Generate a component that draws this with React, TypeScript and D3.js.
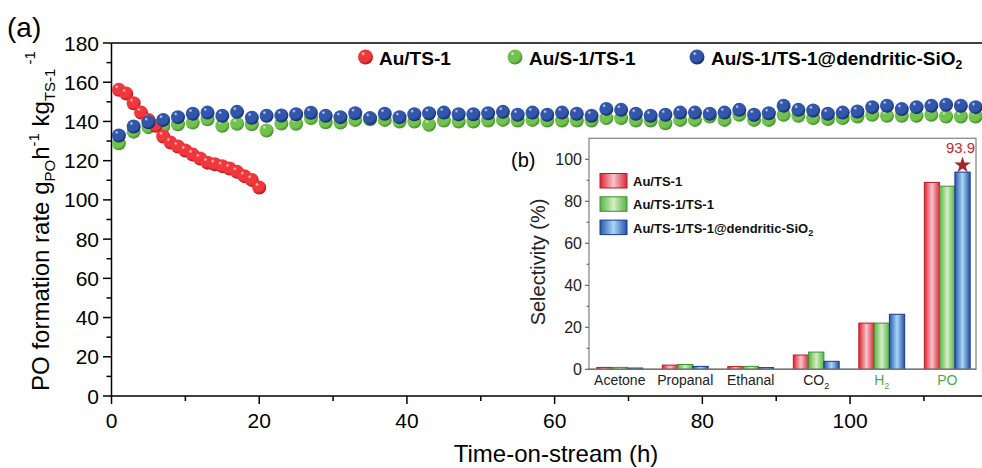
import React from 'react';
import * as d3 from 'd3';

// main panel (a)
const redHours = [1, 2, 3, 4, 5, 6, 7, 8, 9, 10, 11, 12, 13, 14, 15, 16, 17, 18, 19, 20];
const redRate = [156.1, 154.2, 149.3, 144.5, 140.8, 137.8, 132.3, 129.2, 127.2, 125.2, 123.1, 121.1, 119.0, 118.2, 117.2, 116.0, 114.3, 112.1, 110.2, 106.3];

const oddHours = [1, 3, 5, 7, 9, 11, 13, 15, 17, 19, 21, 23, 25, 27, 29, 31, 33, 35, 37, 39,
  41, 43, 45, 47, 49, 51, 53, 55, 57, 59, 61, 63, 65, 67, 69, 71, 73, 75, 77, 79,
  81, 83, 85, 87, 89, 91, 93, 95, 97, 99, 101, 103, 105, 107, 109, 111, 113, 115, 117];
const greenRate = [128.9, 134.8, 137.1, 137.4, 138.6, 139.4, 141.1, 137.8, 138.8, 138.6, 135.4, 138.9, 138.8, 141.7, 139.6, 139.4, 140.8, 141.1, 140.8, 140.0,
  140.0, 138.3, 140.5, 140.0, 140.0, 140.5, 140.8, 140.5, 140.8, 140.5, 140.5, 140.5, 140.5, 141.7, 141.7, 140.5, 140.5, 139.1, 140.8, 140.8,
  142.5, 140.8, 143.4, 140.8, 140.8, 143.4, 142.9, 141.7, 141.2, 141.7, 142.5, 143.4, 142.9, 142.9, 142.9, 143.4, 142.5, 142.5, 142.5];
const blueRate = [132.8, 137.4, 139.6, 140.8, 142.2, 143.9, 144.5, 142.9, 144.9, 141.9, 142.9, 143.0, 143.7, 144.4, 142.9, 142.2, 144.2, 141.7, 143.9, 142.2,
  143.7, 144.2, 144.5, 143.7, 143.7, 144.2, 144.9, 143.4, 144.5, 143.4, 144.5, 143.9, 142.9, 146.4, 145.9, 143.9, 142.9, 143.4, 144.5, 144.5,
  143.9, 144.5, 145.9, 143.4, 144.2, 148.0, 145.9, 145.6, 143.9, 144.5, 145.1, 147.3, 148.0, 146.3, 147.3, 148.0, 148.5, 148.0, 147.3];

const xTicks = [0, 20, 40, 60, 80, 100];
const xMinor = [10, 30, 50, 70, 90, 110];
const yTicks = [0, 20, 40, 60, 80, 100, 120, 140, 160, 180];
const yMinor = [10, 30, 50, 70, 90, 110, 130, 150, 170];

// inset (b)
const categories = ['Acetone', 'Propanal', 'Ethanal', 'CO2', 'H2', 'PO'];
const selRed = [0.9, 2.0, 1.3, 6.8, 22.0, 89.0];
const selGreen = [0.9, 2.3, 1.4, 8.2, 22.0, 87.2];
const selBlue = [0.6, 1.4, 0.8, 3.8, 26.2, 93.9];
const insetTicks = [0, 20, 40, 60, 80, 100];
const insetMinor = [10, 30, 50, 70, 90];

const FONT = 'Liberation Sans, Arial, sans-serif';

const sphereCols = {
  red: ['#ffe4e4', '#f0383c', '#b5121a'],
  green: ['#e8f7de', '#72c24e', '#3f8e27'],
  blue: ['#dce5ff', '#3156aa', '#14296b'],
};
const barCols = {
  red: ['#e2232c', '#f6c4cf', '#dc2a33', '#b51d25'],
  green: ['#55b544', '#d6edc3', '#55b544', '#3e9330'],
  blue: ['#2b55b0', '#a6d8f4', '#2a4fa8', '#1a3a8c'],
};

const App = () => {
  const width = 982;
  const height = 468;

  const x = d3.scaleLinear().domain([0, 118]).range([111.5, 983]);
  const y = d3.scaleLinear().domain([0, 180]).range([396, 43]);

  const iy = d3.scaleLinear().domain([0, 110]).range([369.3, 138.3]);
  const ix = d3.scaleBand().domain(categories).range([587, 980]).paddingInner(0.3).paddingOuter(0.15);
  const sub = d3.scaleBand().domain(['red', 'green', 'blue']).range([0, ix.bandwidth()]);

  const star = d3.symbol().type(d3.symbolStar).size(85)();
  const poBlueX = ix('PO') + sub('blue') + sub.bandwidth() / 2;

  const dots = (hours, vals, key) =>
    hours.map((h, i) => (
      <circle key={key + i} cx={x(h)} cy={y(vals[i])} r={7} fill={`url(#sph-${key})`} />
    ));

  const label = (c) => {
    if (c === 'CO2') return <>CO<tspan fontSize={9} dy={4}>2</tspan></>;
    if (c === 'H2') return <>H<tspan fontSize={9} dy={4}>2</tspan></>;
    return c;
  };

  const insetSeries = [
    ['red', selRed],
    ['green', selGreen],
    ['blue', selBlue],
  ];

  return (
    <svg width={width} height={height} style={{ position: 'absolute', left: 0, top: 0, background: '#fff' }} fontFamily={FONT}>
      <defs>
        {Object.entries(sphereCols).map(([k, c]) => (
          <radialGradient key={k} id={`sph-${k}`} cx="0.42" cy="0.38" r="0.62" fx="0.33" fy="0.26">
            <stop offset="0" stopColor={c[0]} />
            <stop offset="0.22" stopColor={c[1]} />
            <stop offset="0.72" stopColor={c[1]} />
            <stop offset="1" stopColor={c[2]} />
          </radialGradient>
        ))}
        {Object.entries(barCols).map(([k, c]) => (
          <linearGradient key={k} id={`bar-${k}`} x1="0" x2="1" y1="0" y2="0">
            <stop offset="0" stopColor={c[0]} />
            <stop offset="0.5" stopColor={c[1]} />
            <stop offset="1" stopColor={c[2]} />
          </linearGradient>
        ))}
      </defs>

      {/* panel (a) */}
      <text x={7} y={37} fontSize={28}>(a)</text>

      <line x1={111.5} x2={983} y1={43} y2={43} stroke="#000" strokeWidth={1.5} />
      <line x1={111.5} x2={983} y1={396} y2={396} stroke="#000" strokeWidth={1.5} />
      <line x1={111.5} x2={111.5} y1={43} y2={396} stroke="#000" strokeWidth={1.5} />

      {yTicks.map((t) => (
        <g key={'yt' + t}>
          <line x1={103} x2={111.5} y1={y(t)} y2={y(t)} stroke="#000" strokeWidth={1.5} />
          <text x={99} y={y(t)} dy="0.36em" textAnchor="end" fontSize={21}>{t}</text>
        </g>
      ))}
      {yMinor.map((t) => (
        <line key={'ym' + t} x1={106.5} x2={111.5} y1={y(t)} y2={y(t)} stroke="#000" strokeWidth={1.5} />
      ))}
      {xTicks.map((t) => (
        <g key={'xt' + t}>
          <line x1={x(t)} x2={x(t)} y1={396} y2={404} stroke="#000" strokeWidth={1.5} />
          <text x={x(t)} y={428} textAnchor="middle" fontSize={21}>{t}</text>
        </g>
      ))}
      {xMinor.map((t) => (
        <line key={'xm' + t} x1={x(t)} x2={x(t)} y1={396} y2={401} stroke="#000" strokeWidth={1.5} />
      ))}

      <text x={556} y={462} textAnchor="middle" fontSize={24}>Time-on-stream (h)</text>
      <text transform="translate(49,221) rotate(-90)" textAnchor="middle" fontSize={24}>
        PO formation rate g<tspan fontSize={15} dy={6}>PO</tspan>
        <tspan dy={-6}>h</tspan><tspan fontSize={15} dy={-10}>-1</tspan>
        <tspan dy={10}> kg</tspan><tspan fontSize={15} dy={6}>TS-1</tspan>
        <tspan fontSize={15} dy={-20}> -1</tspan>
      </text>

      {dots(oddHours, greenRate, 'green')}
      {dots(redHours, redRate, 'red')}
      {dots(oddHours, blueRate, 'blue')}

      {/* legend */}
      <circle cx={365.5} cy={57} r={7.5} fill="url(#sph-red)" />
      <text x={379} y={65} fontSize={19} fontWeight="bold">Au/TS-1</text>
      <circle cx={515} cy={57} r={7.5} fill="url(#sph-green)" />
      <text x={529} y={65} fontSize={19} fontWeight="bold">Au/S-1/TS-1</text>
      <circle cx={697} cy={57} r={7.5} fill="url(#sph-blue)" />
      <text x={711} y={65} fontSize={19} fontWeight="bold">
        Au/S-1/TS-1@dendritic-SiO<tspan fontSize={12} dy={4}>2</tspan>
      </text>

      {/* inset (b) */}
      <rect x={589} y={138.3} width={387} height={231} fill="#fff" stroke="#8a8a8a" strokeWidth={1.3} />
      <text x={511} y={167} fontSize={20}>(b)</text>

      {insetTicks.map((t) => (
        <g key={'it' + t}>
          <line x1={585} x2={589} y1={iy(t)} y2={iy(t)} stroke="#666" strokeWidth={1.2} />
          <text x={582} y={iy(t)} dy="0.36em" textAnchor="end" fontSize={16} fill="#222">{t}</text>
        </g>
      ))}
      {insetMinor.map((t) => (
        <line key={'im' + t} x1={586.5} x2={589} y1={iy(t)} y2={iy(t)} stroke="#666" strokeWidth={1.2} />
      ))}
      <text transform="translate(545,262) rotate(-90)" textAnchor="middle" fontSize={20} fill="#222">Selectivity (%)</text>

      {insetSeries.map(([k, vals]) =>
        categories.map((c, i) => (
          <rect
            key={k + c}
            x={ix(c) + sub(k)}
            y={iy(vals[i])}
            width={sub.bandwidth()}
            height={iy(0) - iy(vals[i])}
            fill={`url(#bar-${k})`}
            stroke={barCols[k][3]}
            strokeWidth={1}
          />
        ))
      )}
      <line x1={589} x2={976} y1={369.3} y2={369.3} stroke="#777" strokeWidth={1.5} />

      {categories.map((c) => (
        <text
          key={'cl' + c}
          x={ix(c) + ix.bandwidth() / 2}
          y={385}
          textAnchor="middle"
          fontSize={14}
          fill={c === 'H2' || c === 'PO' ? '#4fa84f' : '#222'}
        >
          {label(c)}
        </text>
      ))}

      <path d={star} transform={`translate(${poBlueX},${iy(selBlue[5]) - 7})`} fill="#a3262a" />
      <text x={poBlueX - 2} y={153} textAnchor="middle" fontSize={15} fill="#c8282d">
        {selBlue[5]}
      </text>

      {/* inset legend */}
      {[['red', 'Au/TS-1'], ['green', 'Au/TS-1/TS-1'], ['blue', 'Au/TS-1/TS-1@dendritic-SiO']].map(([k, t], i) => (
        <g key={'il' + k}>
          <rect x={600} y={173.5 + i * 23.3} width={27} height={14.5} fill={`url(#bar-${k})`} stroke={barCols[k][3]} strokeWidth={1} />
          <text x={633} y={186 + i * 23.3} fontSize={13} fontWeight="bold" fill="#111">
            {t}
            {k === 'blue' ? <tspan fontSize={9} dy={3}>2</tspan> : null}
          </text>
        </g>
      ))}
    </svg>
  );
};

export default App;
